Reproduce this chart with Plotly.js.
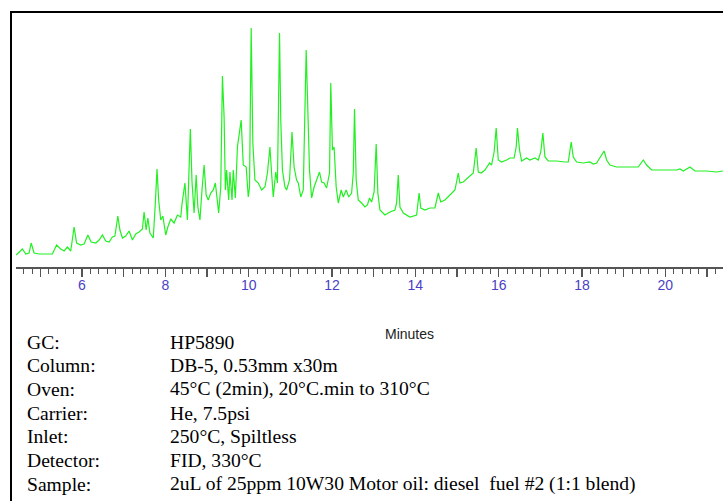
<!DOCTYPE html>
<html>
<head>
<meta charset="utf-8">
<script src="https://cdn.plot.ly/plotly-3.0.1.min.js"></script>
<style>
  html, body { margin: 0; padding: 0; background: #fff; }
  #wrap { position: relative; width: 723px; height: 501px; overflow: hidden; }
  #chart { position: absolute; left: 0; top: 0; width: 723px; height: 501px; }
  #frame { position: absolute; left: 10px; top: 11px; width: 713px; height: 490px;
           border-left: 2px solid #000; border-top: 2px solid #000; box-sizing: border-box; pointer-events: none; }
</style>
</head>
<body>
<div id="wrap"><div id="chart"></div><div id="frame"></div></div>
<script>
// Retention time (minutes)
const times = [
  4.42, 4.57, 4.65, 4.73, 4.78, 4.85, 4.97, 5.29, 5.39, 5.49, 5.57, 5.65, 5.73, 5.81, 5.87, 5.97,
  6.05, 6.14, 6.22, 6.33, 6.41, 6.49, 6.57, 6.65, 6.73, 6.79, 6.86, 6.91, 6.97, 7.05, 7.13, 7.21,
  7.29, 7.37, 7.45, 7.49, 7.54, 7.58, 7.63, 7.71, 7.76, 7.80, 7.84, 7.89, 7.94, 8.01, 8.06, 8.13,
  8.21, 8.29, 8.37, 8.40, 8.47, 8.53, 8.60, 8.64, 8.69, 8.74, 8.78, 8.83, 8.88, 8.93, 8.98, 9.03,
  9.09, 9.15, 9.20, 9.28, 9.33, 9.37, 9.41, 9.44, 9.47, 9.52, 9.55, 9.60, 9.63, 9.68, 9.73, 9.82,
  9.87, 9.94, 9.99, 10.02, 10.06, 10.10, 10.15, 10.23, 10.31, 10.39, 10.45, 10.51, 10.55, 10.59, 10.65, 10.69,
  10.74, 10.77, 10.81, 10.87, 10.91, 10.98, 11.04, 11.09, 11.15, 11.19, 11.25, 11.31, 11.38, 11.42, 11.46, 11.51,
  11.57, 11.63, 11.70, 11.75, 11.81, 11.87, 11.94, 11.97, 12.01, 12.05, 12.10, 12.15, 12.22, 12.27, 12.34, 12.40,
  12.47, 12.51, 12.54, 12.58, 12.63, 12.71, 12.79, 12.85, 12.90, 12.95, 13.01, 13.06, 13.10, 13.15, 13.27, 13.39,
  13.51, 13.55, 13.59, 13.63, 13.71, 13.87, 14.03, 14.09, 14.13, 14.23, 14.35, 14.47, 14.55, 14.61, 14.71, 14.83,
  14.95, 15.03, 15.07, 15.15, 15.27, 15.39, 15.46, 15.51, 15.58, 15.67, 15.78, 15.83, 15.89, 15.94, 15.99, 16.07,
  16.19, 16.27, 16.37, 16.42, 16.45, 16.50, 16.55, 16.67, 16.75, 16.87, 16.95, 17.01, 17.06, 17.11, 17.19, 17.39,
  17.59, 17.67, 17.74, 17.79, 17.87, 18.03, 18.19, 18.27, 18.35, 18.43, 18.53, 18.59, 18.67, 18.83, 18.99, 19.15,
  19.35, 19.47, 19.55, 19.67, 19.95, 20.27, 20.35, 20.43, 20.59, 20.71, 20.99, 21.23, 21.38
];
// Detector response (arbitrary units)
const signal = [
  12, 18, 13, 14, 24, 14, 13, 13, 22, 18, 16, 20, 16, 40, 24, 22,
  23, 32, 25, 24, 27, 32, 26, 25, 30, 31, 51, 37, 29, 31, 36, 27,
  33, 35, 38, 55, 37, 49, 34, 29, 64, 98, 67, 47, 51, 32, 40, 48,
  44, 52, 50, 63, 84, 47, 138, 85, 54, 92, 60, 47, 77, 102, 72, 67,
  74, 77, 84, 54, 80, 191, 150, 77, 97, 67, 95, 67, 97, 69, 120, 147,
  102, 100, 70, 80, 239, 124, 87, 84, 77, 80, 94, 120, 94, 70, 95, 84,
  234, 147, 97, 80, 77, 87, 135, 100, 87, 84, 70, 77, 217, 157, 97, 69,
  80, 87, 95, 85, 84, 79, 94, 184, 117, 120, 80, 64, 77, 70, 77, 70,
  74, 94, 158, 87, 67, 64, 60, 62, 69, 65, 75, 123, 74, 57, 52, 55,
  57, 64, 92, 60, 54, 50, 52, 74, 59, 57, 59, 59, 74, 65, 67, 72,
  77, 94, 84, 85, 90, 94, 119, 95, 94, 97, 104, 102, 115, 139, 107, 105,
  107, 109, 109, 120, 139, 117, 106, 109, 107, 109, 107, 115, 134, 110, 106, 106,
  105, 105, 125, 110, 105, 104, 105, 103, 104, 110, 116, 107, 102, 100, 100, 100,
  100, 107, 102, 97, 97, 97, 98, 96, 100, 96, 96, 95, 96
];
// Axis ticks
const tickVals = [5, 6, 7, 8, 9, 10, 11, 12, 13, 14, 15, 16, 17, 18, 19, 20, 21];
const tickLabels = ['', '6', '', '8', '', '10', '', '12', '', '14', '', '16', '', '18', '', '20', ''];
const xTitle = 'Minutes';
// Method conditions text
const specLabels = ['GC:', 'Column:', 'Oven:', 'Carrier:', 'Inlet:', 'Detector:', 'Sample:'];
const specValues = [
  'HP5890',
  'DB-5, 0.53mm x30m',
  '45°C (2min), 20°C.min to 310°C',
  'He, 7.5psi',
  '250°C, Spiltless',
  'FID, 330°C',
  '2uL of 25ppm 10W30 Motor oil: diesel  fuel #2 (1:1 blend)'
];

const W = 723, H = 501;
const M = { l: 16, r: 0, t: 14, b: 234 };
const plotH = H - M.t - M.b;
const plotW = W - M.l - M.r;
const py = (pix) => (H - M.b - pix) / plotH;   // pixel row -> paper y
const px = (pix) => (pix - M.l) / plotW;       // pixel col -> paper x

const annotations = [];
specLabels.forEach((lab, i) => {
  const yc = 342 + i * 23.67;
  annotations.push({
    text: lab, xref: 'paper', yref: 'paper', x: px(25), y: py(yc),
    xanchor: 'left', yanchor: 'middle', showarrow: false,
    font: { family: 'Liberation Serif, Times New Roman, serif', size: 19.6, color: '#000' }
  });
  annotations.push({
    text: specValues[i], xref: 'paper', yref: 'paper', x: px(168), y: py(yc),
    xanchor: 'left', yanchor: 'middle', showarrow: false,
    font: { family: 'Liberation Serif, Times New Roman, serif', size: 19.6, color: '#000' }
  });
});
annotations.push({
  text: xTitle, xref: 'paper', yref: 'paper', x: px(409), y: py(334),
  xanchor: 'center', yanchor: 'middle', showarrow: false,
  font: { family: 'Liberation Sans, Arial, sans-serif', size: 14, color: '#222' }
});

const trace = {
  x: times, y: signal, type: 'scatter', mode: 'lines',
  line: { color: '#22f022', width: 1.2 },
  hoverinfo: 'x+y'
};

const layout = {
  width: W, height: H,
  margin: M,
  paper_bgcolor: '#fff', plot_bgcolor: '#fff',
  showlegend: false,
  xaxis: {
    range: [4.416, 21.383], fixedrange: true,
    showline: true, linecolor: '#555', linewidth: 1.5,
    showgrid: false, zeroline: false,
    tickmode: 'array', tickvals: tickVals, ticktext: tickLabels,
    ticks: 'outside', ticklen: 8, tickwidth: 1.2, tickcolor: '#555',
    ticklabelstandoff: -3,
    tickfont: { family: 'Liberation Sans Narrow, Arial Narrow, Liberation Sans, Arial, sans-serif', size: 14, color: '#4a3fc4' },
    minor: { tick0: 0, dtick: 0.2, ticks: 'outside', ticklen: 5, tickwidth: 1, tickcolor: '#555', showgrid: false }
  },
  yaxis: { range: [0, 253], visible: false, fixedrange: true, showgrid: false, zeroline: false },
  annotations: annotations
};

Plotly.newPlot('chart', [trace], layout, { displayModeBar: false, staticPlot: true });
</script>
</body>
</html>
